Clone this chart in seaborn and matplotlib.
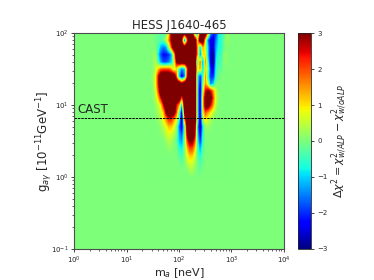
import numpy as np
import matplotlib
matplotlib.use("Agg")
import matplotlib.pyplot as plt
import matplotlib.ticker as mticker
import seaborn as sns

# grid of log10(m_a / neV) and log10(g / 1e-11 GeV^-1) where the map is non-zero
log_ma = [1.45, 1.50, 1.55, 1.60, 1.65, 1.70, 1.75, 1.80, 1.85, 1.90, 1.95, 2.00,
          2.05, 2.10, 2.15, 2.20, 2.25, 2.30, 2.35, 2.40, 2.45, 2.50, 2.55, 2.60,
          2.65, 2.70, 2.75, 2.80, 2.85, 2.90, 2.95, 3.00]
log_g = [2.0, 1.9, 1.8, 1.7, 1.6, 1.5, 1.4, 1.3, 1.2, 1.1, 1.0,
         0.9, 0.8, 0.7, 0.6, 0.5, 0.4, 0.3, 0.2, 0.1, 0.0]

# delta chi^2, one row per log_g value (top to bottom)
dchi2 = [
    [0, 0, -0.1, -0.2, -0.3, -0.3, -0.2, 1.0, 3, 4, 4, 4, 4, 4, 4, 4, 4, -0.5, -0.8, 3, 4, 4, 1.5, -1.2, -2, -2, -0.8, -0.7, -0.3, 0.2, 0.1, 0],
    [0, 0, -0.1, -0.2, -0.3, -0.2, 0.5, 1.5, 3, 4, 4, 4, 3, -1.5, 2, 4, 4, 4, 1, 4, 4, 1, -1.5, -2.5, -2.5, -1.5, -0.8, -0.6, -0.2, 0.2, 0.1, 0],
    [0, 0, 0, -0.4, -1.2, -1.5, -1.3, 0.2, 2, 4, 4, 4, 4, 4, 4, 4, 4, 4, 1.5, -1, 1.5, 0.5, -1.0, -2.5, -2.5, -1.2, -0.7, -0.6, -0.2, 0.1, 0, 0],
    [0, 0.1, 0.3, -0.8, -1.8, -2.2, -2.2, -2.0, -1.2, 1.0, 4, 4, 4, 4, 4, 4, 4, 4, 1.5, -1.5, 1.0, 1.0, -1.0, -2.5, -3, -1.0, -0.5, -0.5, 0.1, 0.1, 0, 0],
    [0, 0.1, 0.4, -0.3, -1.3, -1.8, -1.8, -1.5, -1.0, 0.5, 3, 4, 4, 4, 4, 4, 4, 4, -0.5, 2, -1.5, 1.5, -0.5, -2.5, -3, -0.8, -0.4, -0.4, 0.1, 0.1, 0, 0],
    [0, 0.1, 0.5, 1.2, 1.8, 2, 2, 2, 1.5, 0.5, 1.0, -0.5, -1.5, -1.0, 2, 4, 4, 4, 0.5, 1.5, -1.0, 1.0, 0, -2.0, -2.5, -0.6, -0.3, -0.2, 0, 0, 0, 0],
    [0, 0.2, 0.8, 2.5, 4, 4, 4, 4, 4, 4, 2, -1.0, -2.5, -1.5, 2.5, 4, 4, 4, -0.5, -2.0, -0.5, 1.5, -0.5, -2.0, -2.0, -0.5, -0.1, 0, 0, 0, 0, 0],
    [0, 0.2, 0.8, 2.5, 4, 4, 4, 4, 4, 4, 4, 4, 3, 4, 4, 4, 4, 4, -0.5, -2.5, 0, 1.5, 0.5, -1.5, -1.0, 0, 0, 0, 0, 0, 0, 0],
    [0, 0.1, 0.6, 2.0, 4, 4, 4, 4, 4, 4, 4, 4, 4, 4, 4, 4, 4, 4, -0.5, -3, 0.5, 2.5, 3, 2.5, 1.5, 0.5, 0.1, 0, 0, 0, 0, 0],
    [0, 0.1, 0.4, 1.2, 2.5, 4, 4, 4, 4, 4, 4, 4, 2, 4, 4, 4, 4, 4, -0.5, -3, 1.0, 3.5, 4, 3.5, 2.0, 0.6, 0.1, 0, 0, 0, 0, 0],
    [0, 0, 0.2, 0.5, 1.0, 2.5, 4, 4, 4, 4, 2.5, 1.5, -1.0, 4, 4, 4, 4, 4, -0.5, -3, 1.0, 3.5, 3.5, 2.5, 1.5, 0.4, 0.1, 0, 0, 0, 0, 0],
    [0, 0, 0.1, 0.3, 0.6, 1.2, 3, 4, 4, 3.5, 2, 0, -2.5, 3, 4, 4, 4, 4, -0.5, -3, 0.8, 2.0, 1.5, 1.0, 0.5, 0.2, 0, 0, 0, 0, 0, 0],
    [0, 0, 0, 0.2, 0.4, 0.8, 1.5, 2.2, 2.2, 1.5, 0.8, -0.5, -3, 1.5, 4, 4, 4, 4, -0.3, -3, 0.3, 1.0, 0.6, 0.3, 0.1, 0, 0, 0, 0, 0, 0, 0],
    [0, 0, 0, 0, 0.2, 0.4, 0.8, 1.2, 1.2, 0.8, 0.2, -1.5, -2.5, -0.3, 3.5, 4, 4, 3.5, -1.0, -3, -0.8, 0.2, 0.2, 0.1, 0, 0, 0, 0, 0, 0, 0, 0],
    [0, 0, 0, 0, 0.1, 0.2, 0.5, 0.7, 0.7, 0.4, 0, -1.2, -1.8, -0.3, 3, 4, 4, 3, -0.8, -2.5, -0.6, 0.1, 0, 0, 0, 0, 0, 0, 0, 0, 0, 0],
    [0, 0, 0, 0, 0, 0, 0.2, 0.4, 0.3, 0.1, -0.2, -1.0, -1.3, -0.1, 2, 3, 3, 2, -0.5, -2, -0.5, 0, 0, 0, 0, 0, 0, 0, 0, 0, 0, 0],
    [0, 0, 0, 0, 0, 0, 0, 0.2, 0.1, 0, 0, -0.6, -0.8, 0, 1.2, 2, 2, 1.2, -0.3, -1.2, -0.3, 0, 0, 0, 0, 0, 0, 0, 0, 0, 0, 0],
    [0, 0, 0, 0, 0, 0, 0, 0, 0, 0, 0, -0.3, -0.4, 0, 0.7, 1.2, 1.2, 0.6, -0.2, -0.7, -0.2, 0, 0, 0, 0, 0, 0, 0, 0, 0, 0, 0],
    [0, 0, 0, 0, 0, 0, 0, 0, 0, 0, 0, 0, -0.2, 0, 0.4, 0.7, 0.6, 0.3, 0, -0.4, -0.1, 0, 0, 0, 0, 0, 0, 0, 0, 0, 0, 0],
    [0, 0, 0, 0, 0, 0, 0, 0, 0, 0, 0, 0, 0, 0, 0, 0.3, 0.3, 0.1, 0, -0.2, 0, 0, 0, 0, 0, 0, 0, 0, 0, 0, 0, 0],
    [0, 0, 0, 0, 0, 0, 0, 0, 0, 0, 0, 0, 0, 0, 0, 0, 0, 0, 0, 0, 0, 0, 0, 0, 0, 0, 0, 0, 0, 0, 0, 0],
]
g_cast = 6.6
x_decades = [0, 1, 2, 3, 4]
y_decades = [-1, 0, 1, 2]

sns.set_style("ticks")
plt.rcParams['font.family'] = ['DejaVu Sans']

cmap = matplotlib.colormaps["jet"]
norm = matplotlib.colors.Normalize(vmin=-3, vmax=3)

fig = plt.figure(figsize=(3.74, 2.80), dpi=100)
ax = fig.add_axes([0.198, 0.111, 0.561, 0.771])
cax = fig.add_axes([0.797, 0.111, 0.035, 0.771])

# the map is drawn in log10 units, the axes are labelled as log axes
dx = (log_ma[1] - log_ma[0]) / 2
dy = (log_g[0] - log_g[1]) / 2
ext = [log_ma[0] - dx, log_ma[-1] + dx, log_g[-1] - dy, log_g[0] + dy]

ax.set_facecolor(cmap(norm(0)))
im = ax.imshow(np.array(dchi2), extent=ext, origin='upper', aspect='auto',
               cmap=cmap, norm=norm, interpolation='bilinear',
               interpolation_stage='data')
ax.set_xlim(x_decades[0], x_decades[-1])
ax.set_ylim(y_decades[0], y_decades[-1])

def minor_locs(decades):
    return [d + np.log10(k) for d in decades[:-1] for k in range(2, 10)]

ax.xaxis.set_major_locator(mticker.FixedLocator(x_decades))
ax.yaxis.set_major_locator(mticker.FixedLocator(y_decades))
ax.xaxis.set_minor_locator(mticker.FixedLocator(minor_locs(x_decades)))
ax.yaxis.set_minor_locator(mticker.FixedLocator(minor_locs(y_decades)))
fmt = mticker.FuncFormatter(lambda v, p: r"$10^{%d}$" % round(v))
ax.xaxis.set_major_formatter(fmt)
ax.yaxis.set_major_formatter(fmt)

ax.axhline(np.log10(g_cast), color='k', ls=(0, (2.5, 1)), lw=0.7)
ax.text(np.log10(1.15), np.log10(g_cast) + 0.03, "CAST", fontsize=8.5, va='bottom')

ax.set_title("HESS J1640-465", fontsize=8.5, pad=3)
ax.set_xlabel("m$_a$ [neV]", fontsize=8)
ax.xaxis.set_label_coords(0.5, -0.078)
ax.set_ylabel(r"g$_{a\gamma}$ [10$^{-11}$GeV$^{-1}$]", fontsize=8.5, labelpad=-3)
ax.tick_params(labelsize=5, length=2.5, width=0.6, pad=1.5)
ax.tick_params(which='minor', length=1.5, width=0.5)
for s in ax.spines.values():
    s.set_linewidth(0.8)
    s.set_color('0.3')

cb = fig.colorbar(im, cax=cax, ticks=[-3, -2, -1, 0, 1, 2, 3])
cb.ax.tick_params(labelsize=5, length=2.5, width=0.6, pad=2)
cb.outline.set_linewidth(0.6)
cb.set_label(r"$\Delta\chi^2 = \chi^2_{w/ALP} - \chi^2_{w/oALP}$", fontsize=8, labelpad=1)

fig.savefig("out.png", dpi=100)
